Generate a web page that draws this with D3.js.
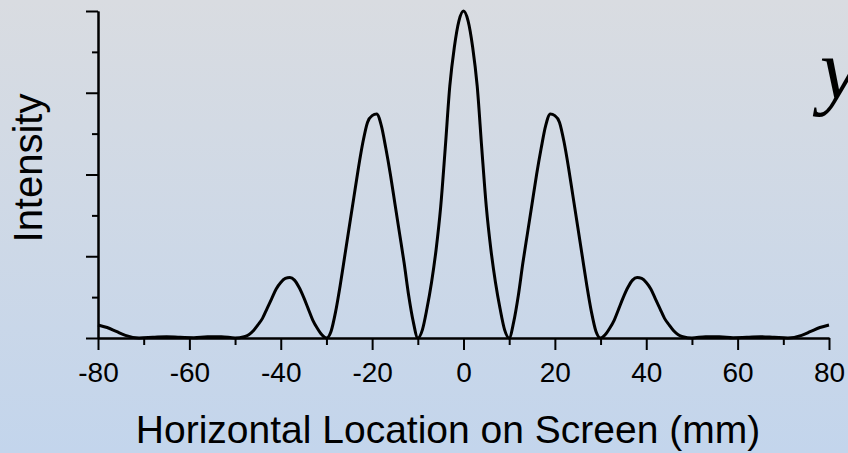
<!DOCTYPE html>
<html>
<head>
<meta charset="utf-8">
<script src="https://cdn.jsdelivr.net/npm/d3@7"></script>
<style>
  body { margin: 0; }
  svg { display: block; font-family: "Liberation Sans", Arial, sans-serif; }
</style>
</head>
<body>
<svg class="svg_pattern" width="848" height="453"></svg>
<script>
// double slit pattern (mm, relative intensity)
var positionMm = [
  -80, -78, -76, -74, -71, -68, -65, -62, -59, -56, -53, -50,
  -48, -47, -46, -45, -44, -43, -42, -41, -40, -39, -38, -37, -36, -35, -34, -33, -32, -31, -30,
  -29, -28, -27, -26, -25, -24, -23, -22, -21, -20, -19, -18, -17, -16, -15, -14, -13, -12, -11, -10,
  -9, -8, -7, -6, -5, -4, -3, -2, -1,
  0,
  1, 2, 3, 4, 5, 6, 7, 8, 9,
  10, 11, 12, 13, 14, 15, 16, 17, 18, 19, 20, 21, 22, 23, 24, 25, 26, 27, 28, 29,
  30, 31, 32, 33, 34, 35, 36, 37, 38, 39, 40, 41, 42, 43, 44, 45, 46, 47, 48,
  50, 53, 56, 59, 62, 65, 68, 71, 74, 76, 78, 80
];
var intensity = [
  0.04, 0.032, 0.02, 0.008, 0, 0.002, 0.004, 0.002, 0.001, 0.004, 0.004, 0,
  0.004, 0.01, 0.022, 0.04, 0.06, 0.09, 0.12, 0.15, 0.17, 0.182, 0.185, 0.177, 0.155, 0.125, 0.09, 0.055, 0.03, 0.01, 0,
  0.02, 0.08, 0.16, 0.25, 0.34, 0.43, 0.52, 0.60, 0.66, 0.68, 0.685, 0.65, 0.58, 0.50, 0.41, 0.32, 0.23, 0.13, 0.05, 0,
  0.025, 0.09, 0.17, 0.27, 0.40, 0.58, 0.77, 0.89, 0.97,
  1.00,
  0.97, 0.89, 0.77, 0.58, 0.40, 0.27, 0.17, 0.09, 0.025,
  0, 0.05, 0.13, 0.23, 0.32, 0.41, 0.50, 0.58, 0.65, 0.685, 0.68, 0.66, 0.60, 0.52, 0.43, 0.34, 0.25, 0.16, 0.08, 0.02,
  0, 0.01, 0.03, 0.055, 0.09, 0.125, 0.155, 0.177, 0.185, 0.182, 0.17, 0.15, 0.12, 0.09, 0.06, 0.04, 0.022, 0.01, 0.004,
  0, 0.004, 0.004, 0.001, 0.002, 0.004, 0.002, 0, 0.008, 0.02, 0.032, 0.04
];
var xMajorTicks = [-80, -60, -40, -20, 0, 20, 40, 60, 80];
var xMinorTicks = [-70, -50, -30, -10, 10, 30, 50, 70];
var yMajorTicks = [0, 0.25, 0.5, 0.75, 1];
var yMinorTicks = [0.125, 0.375, 0.625, 0.875];

var svg = d3.select(".svg_pattern"),
    W = +svg.attr("width"),
    H = +svg.attr("height");

// background gradient grey -> light blue
var grad = svg.append("defs").append("linearGradient")
    .attr("id", "bg").attr("x1", 0).attr("y1", 0).attr("x2", 0).attr("y2", 1);
grad.append("stop").attr("offset", "0%").attr("stop-color", "#d9dce1");
grad.append("stop").attr("offset", "100%").attr("stop-color", "#c3d5ec");
svg.append("rect").attr("width", W).attr("height", H).attr("fill", "url(#bg)");

var x = d3.scaleLinear().domain([-80, 80]).range([98, 829]);
var y = d3.scaleLinear().domain([0, 1]).range([338, 11]);

function styleAxis(g) {
  g.selectAll("path.domain").attr("stroke", "#000").attr("stroke-width", 2);
  g.selectAll(".tick line").attr("stroke", "#000").attr("stroke-width", 2);
}

// x axis (plain hyphen for negatives, like the original)
svg.append("g")
    .attr("transform", "translate(0,338)")
    .call(d3.axisBottom(x).tickValues(xMinorTicks).tickSize(7).tickSizeOuter(0).tickFormat(""))
    .call(styleAxis);
var xAx = svg.append("g")
    .attr("transform", "translate(0,338)")
    .call(d3.axisBottom(x).tickValues(xMajorTicks).tickSize(12).tickSizeOuter(0).tickPadding(12)
      .tickFormat(function(d) { return String(d); }))
    .call(styleAxis);
xAx.selectAll("text")
    .attr("font-size", 28)
    .attr("font-family", "'Liberation Sans', Arial, sans-serif")
    .attr("fill", "#000");

// y axis, ticks only
svg.append("g")
    .attr("transform", "translate(98,0)")
    .call(d3.axisLeft(y).tickValues(yMinorTicks).tickSize(6).tickSizeOuter(0).tickFormat(""))
    .call(styleAxis);
svg.append("g")
    .attr("transform", "translate(98,0)")
    .call(d3.axisLeft(y).tickValues(yMajorTicks).tickSize(12).tickSizeOuter(0).tickFormat(""))
    .call(styleAxis);

// intensity curve
var pts = positionMm.map(function(p, i) { return [p, intensity[i]]; });
var line = d3.line()
    .x(function(d) { return x(d[0]); })
    .y(function(d) { return y(d[1]); })
    .curve(d3.curveMonotoneX);
svg.append("path")
    .datum(pts)
    .attr("d", line)
    .attr("fill", "none")
    .attr("stroke", "#000")
    .attr("stroke-width", 3)
    .attr("stroke-linejoin", "round");

// titles
svg.append("text")
    .attr("x", 448).attr("y", 443)
    .attr("text-anchor", "middle")
    .attr("font-size", 39)
    .text("Horizontal Location on Screen (mm)");
svg.append("text")
    .attr("transform", "translate(42,168) rotate(-90)")
    .attr("text-anchor", "middle")
    .attr("font-size", 40)
    .text("Intensity");

// italic y cut by the right edge, as in the original slide
svg.append("text")
    .attr("x", 820).attr("y", 98)
    .attr("font-family", "'Liberation Serif', 'Times New Roman', serif")
    .attr("font-style", "italic")
    .attr("font-size", 86)
    .text("y");
</script>
</body>
</html>
